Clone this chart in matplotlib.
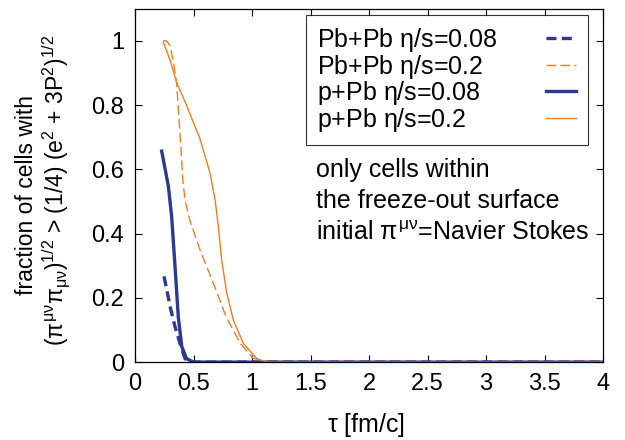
import matplotlib
matplotlib.use("Agg")
import matplotlib.pyplot as plt

plt.rcParams['font.family'] = ['Liberation Sans', 'DejaVu Sans']
plt.rcParams['mathtext.fontset'] = 'custom'
plt.rcParams['mathtext.rm'] = 'Liberation Sans'
plt.rcParams['mathtext.it'] = 'Liberation Sans'

# p+Pb eta/s=0.08
tau_p008 = [0.228, 0.285, 0.313, 0.342, 0.37, 0.40, 0.44, 0.50, 1.0, 2.0, 3.0, 4.0]
frac_p008 = [0.657, 0.548, 0.454, 0.298, 0.14, 0.048, 0.011, 0.0, 0.0, 0.0, 0.0, 0.0]

# Pb+Pb eta/s=0.08
tau_pb008 = [0.248, 0.30, 0.342, 0.385, 0.427, 0.47, 1.0, 2.0, 3.0, 4.0]
frac_pb008 = [0.267, 0.173, 0.11, 0.058, 0.011, 0.0, 0.0, 0.0, 0.0, 0.0]

# Pb+Pb eta/s=0.2
tau_pb02 = [0.24, 0.27, 0.30, 0.33, 0.355, 0.37, 0.385, 0.40, 0.41, 0.43,
            0.47, 0.555, 0.67, 0.78, 0.90, 1.01, 1.12, 2.0, 3.0, 4.0]
frac_pb02 = [1.0, 1.0, 0.985, 0.93, 0.87, 0.79, 0.71, 0.62, 0.56, 0.50,
             0.44, 0.35, 0.245, 0.14, 0.058, 0.012, 0.0, 0.0, 0.0, 0.0]

# p+Pb eta/s=0.2
tau_p02 = [0.242, 0.30, 0.356, 0.44, 0.556, 0.64, 0.684, 0.712, 0.74, 0.784,
           0.84, 0.926, 1.04, 1.12, 2.0, 3.0, 4.0]
frac_p02 = [0.996, 0.94, 0.871, 0.80, 0.694, 0.59, 0.506, 0.423, 0.319, 0.215,
            0.131, 0.058, 0.011, 0.0, 0.0, 0.0, 0.0]

blue = '#2b3990'
orange = '#f47b20'

fig = plt.figure(figsize=(6.25, 4.4), dpi=100)
ax = fig.add_axes([0.216, 0.177, 0.749, 0.803])

ax.plot(tau_pb008, frac_pb008, color=blue, lw=2.4, ls=(0, (3, 1.6)),
        label=r'Pb+Pb $\eta$/s=0.08')
ax.plot(tau_pb02, frac_pb02, color=orange, lw=1.0, ls=(0, (7, 3)),
        label=r'Pb+Pb $\eta$/s=0.2')
ax.plot(tau_p008, frac_p008, color=blue, lw=2.4, label=r'p+Pb $\eta$/s=0.08')
ax.plot(tau_p02, frac_p02, color=orange, lw=1.0, label=r'p+Pb $\eta$/s=0.2')

ax.set_xlim(0, 4)
ax.set_ylim(0, 1.1)
ax.set_xticks([0, 0.5, 1, 1.5, 2, 2.5, 3, 3.5, 4])
ax.set_xticklabels(['0', '0.5', '1', '1.5', '2', '2.5', '3', '3.5', '4'])
ax.set_yticks([0, 0.2, 0.4, 0.6, 0.8, 1])
ax.set_yticklabels(['0', '0.2', '0.4', '0.6', '0.8', '1'])
ax.tick_params(direction='in', top=True, right=True, length=5, width=0.8,
               labelsize=17, pad=8)
for s in ax.spines.values():
    s.set_linewidth(0.9)

fig.text(366 / 625, 1 - 425 / 440, r'$\tau$ [fm/c]', fontsize=18,
         ha='center', va='center')

fig.text(27 / 625, 1 - 195 / 440, 'fraction of cells with', rotation=90,
         fontsize=16.5, ha='center', va='center')
fig.text(57 / 625, 1 - 190 / 440,
         r'$(\pi^{\mu\nu}\pi_{\mu\nu})^{1/2}$ > (1/4) (e$^2$ + 3P$^2$)$^{1/2}$',
         rotation=90, fontsize=16.5, ha='center', va='center')

leg = ax.legend(loc='upper left', bbox_to_anchor=(306 / 625, 1 - 15 / 440),
                bbox_transform=fig.transFigure, fontsize=18, markerfirst=False,
                frameon=True, fancybox=False, handlelength=1.2,
                labelspacing=-0.06, borderpad=0.45, handletextpad=1.0,
                borderaxespad=0)
leg.get_frame().set_edgecolor('black')
leg.get_frame().set_linewidth(0.8)
# keep labels left-aligned and push the line samples to the right edge
for col in leg._legend_handle_box.get_children():
    for item in col.get_children():
        item.mode = 'expand'
        item.width = 259

fig.text(316 / 625, 1 - 170 / 440, 'only cells within', fontsize=18, va='center')
fig.text(316 / 625, 1 - 201 / 440, 'the freeze-out surface', fontsize=18, va='center')
fig.text(316 / 625, 1 - 233 / 440, r'initial $\pi^{\mu\nu}$=Navier Stokes',
         fontsize=18, va='center')

fig.savefig('out.png', dpi=100)
